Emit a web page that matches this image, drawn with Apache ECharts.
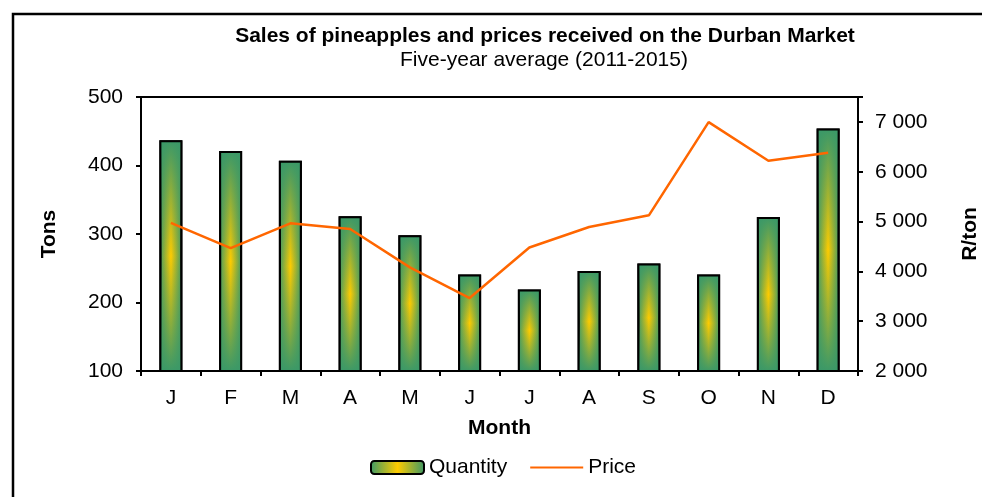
<!DOCTYPE html>
<html>
<head>
<meta charset="utf-8">
<script src="https://cdn.jsdelivr.net/npm/echarts@6/dist/echarts.min.js"></script>
<style>
    html, body { margin: 0; padding: 0; background: #fff; }
    #chart { width: 982px; height: 497px; }
</style>
</head>
<body>
<div id="chart"></div>
<script>
// 数据
var months = ['J', 'F', 'M', 'A', 'M', 'J', 'J', 'A', 'S', 'O', 'N', 'D']
var quantity = [437, 421, 407, 326, 298, 241, 219, 246, 257, 241, 325, 454]
var price = [4975, 4465, 4965, 4850, 4080, 3465, 4480, 4890, 5125, 6995, 6220, 6380]

var font = '"Liberation Sans", Arial, sans-serif'
var green = '#3a9868'
var yellow = '#ffcc00'

/** 横向渐变: 两边绿色, 中间黄色 */
var barFill = {
    type: 'linear', x: 0, y: 0, x2: 1, y2: 0,
    colorStops: [
        { offset: 0, color: green },
        { offset: 0.5, color: yellow },
        { offset: 1, color: green }
    ]
}
/** 纵向叠加: 上下绿色, 中间透明 */
var barOverlay = {
    type: 'linear', x: 0, y: 0, x2: 0, y2: 1,
    colorStops: [
        { offset: 0, color: 'rgba(58,152,104,1)' },
        { offset: 0.5, color: 'rgba(58,152,104,0)' },
        { offset: 1, color: 'rgba(58,152,104,1)' }
    ]
}

function fmtThousand(v) {
    if (v > 7000) return ''
    var s = String(v)
    return s.length > 3 ? s.slice(0, s.length - 3) + ' ' + s.slice(-3) : s
}

var myChart = echarts.init(document.getElementById('chart'))

let option = {
    animation: false,
    textStyle: { fontFamily: font },
    graphic: [
        {
            type: 'rect', z: -10,
            shape: { x: 13, y: 14, width: 1000, height: 1000 },
            style: { fill: 'none', stroke: '#000', lineWidth: 2.5 }
        },
        {
            type: 'text', x: 545, y: 36,
            style: {
                text: 'Sales of pineapples and prices received on the Durban Market',
                align: 'center', verticalAlign: 'middle',
                font: 'bold 21px ' + font, fill: '#000'
            }
        },
        {
            type: 'text', x: 544, y: 60,
            style: {
                text: 'Five-year average (2011-2015)',
                align: 'center', verticalAlign: 'middle',
                font: '21px ' + font, fill: '#000'
            }
        }
    ],
    legend: {
        data: [
            { name: 'Quantity' },
            { name: 'Price', itemStyle: { opacity: 0 } }
        ],
        left: 365,
        top: 452,
        itemWidth: 53,
        itemHeight: 13,
        itemGap: 22,
        textStyle: { fontSize: 21, color: '#000', fontFamily: font }
    },
    grid: {
        left: 141,
        right: 124,
        top: 97,
        bottom: 126,
        outerBoundsMode: 'none',
        show: true,
        borderColor: '#000',
        borderWidth: 2
    },
    xAxis: {
        type: 'category',
        data: months,
        boundaryGap: true,
        axisLine: { lineStyle: { color: '#000', width: 2 } },
        axisTick: { show: true, length: 5, lineStyle: { color: '#000', width: 2 } },
        axisLabel: { color: '#000', fontSize: 21, margin: 17 },
        name: 'Month',
        nameLocation: 'middle',
        nameGap: 47,
        nameTextStyle: { fontSize: 21, fontWeight: 'bold', color: '#000' }
    },
    yAxis: [
        {
            type: 'value',
            min: 100,
            max: 500,
            interval: 100,
            splitLine: { show: false },
            axisLine: { show: true, lineStyle: { color: '#000', width: 2 } },
            axisTick: { show: true, length: 5, lineStyle: { color: '#000', width: 2 } },
            axisLabel: { color: '#000', fontSize: 21, margin: 18 },
            name: 'Tons',
            nameLocation: 'middle',
            nameRotate: 90,
            nameGap: 81,
            nameTextStyle: { fontSize: 21, fontWeight: 'bold', color: '#000' }
        },
        {
            type: 'value',
            min: 2000,
            max: 7500,
            interval: 1000,
            splitLine: { show: false },
            axisLine: { show: true, lineStyle: { color: '#000', width: 2 } },
            axisTick: { show: true, length: 5, lineStyle: { color: '#000', width: 2 } },
            axisLabel: { color: '#000', fontSize: 21, margin: 17, formatter: fmtThousand },
            name: 'R/ton',
            nameLocation: 'middle',
            nameRotate: 90,
            nameGap: 102,
            nameTextStyle: { fontSize: 21, fontWeight: 'bold', color: '#000' }
        }
    ],
    series: [
        {
            name: 'Quantity',
            type: 'bar',
            yAxisIndex: 0,
            barWidth: 23,
            data: quantity,
            itemStyle: { color: barFill, borderColor: '#000', borderWidth: 2 }
        },
        {
            name: 'QuantityShade',
            type: 'bar',
            yAxisIndex: 0,
            barWidth: 23,
            barGap: '-100%',
            data: quantity,
            itemStyle: { color: barOverlay, borderColor: '#000', borderWidth: 2 }
        },
        {
            name: 'Price',
            type: 'line',
            yAxisIndex: 1,
            data: price,
            symbol: 'none',
            z: 5,
            lineStyle: { color: '#ff6600', width: 2.5 },
            itemStyle: { color: '#ff6600' }
        }
    ]
}

myChart.setOption(option)
</script>
</body>
</html>
